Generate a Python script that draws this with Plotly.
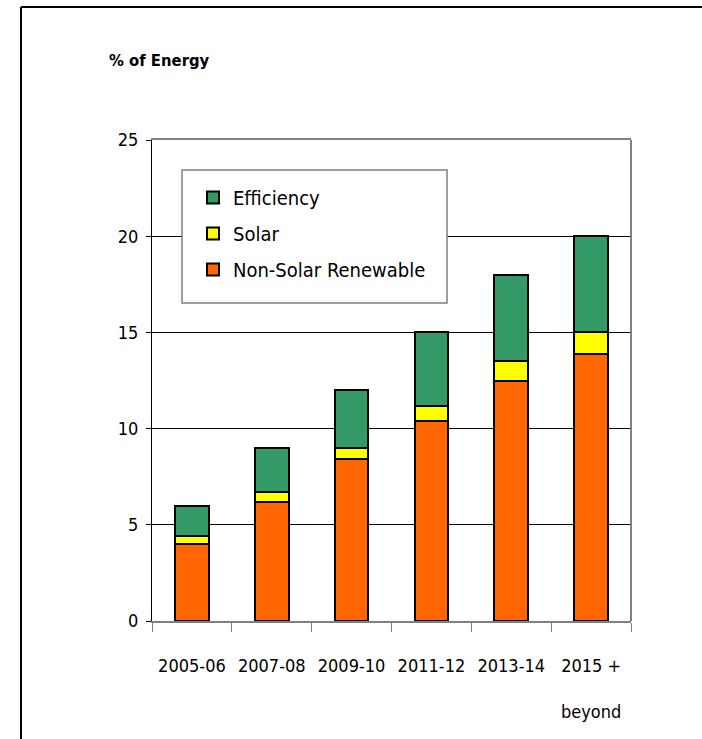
import plotly.graph_objects as go

categories = ["2005-06", "2007-08", "2009-10", "2011-12", "2013-14", "2015 +<br> <br>beyond"]
non_solar = [4.0, 6.2, 8.4, 10.4, 12.5, 13.9]
solar = [0.4, 0.5, 0.6, 0.8, 1.0, 1.1]
efficiency = [1.6, 2.3, 3.0, 3.8, 4.5, 5.0]
y_ticks = [0, 5, 10, 15, 20, 25]

FONT = "DejaVu Sans Condensed, Liberation Sans, Arial, sans-serif"

fig = go.Figure()
fig.add_bar(x=categories, y=non_solar, name="Non-Solar Renewable", legendgroup="c", legendrank=3,
            marker=dict(color="#FF6600", line=dict(color="black", width=2)))
fig.add_bar(x=categories, y=solar, name="Solar", legendgroup="b", legendrank=2,
            marker=dict(color="#FFFF00", line=dict(color="black", width=2)))
fig.add_bar(x=categories, y=efficiency, name="Efficiency", legendgroup="a", legendrank=1,
            marker=dict(color="#339966", line=dict(color="black", width=2)))

W, H = 702, 739
L, R, T, B = 152, 631, 140, 621
pw, ph = R - L, B - T

def px(x):
    return (x - L) / pw

def py(y):
    return (B - y) / ph

fig.update_layout(
    width=W, height=H,
    margin=dict(l=L, r=W - R, t=T, b=H - B, autoexpand=False),
    barmode="stack", bargap=0.58,
    paper_bgcolor="white", plot_bgcolor="white",
    font=dict(family=FONT, size=18, color="black"),
    showlegend=True,
    legend=dict(x=px(193), y=py(178), xanchor="left", yanchor="top",
                traceorder="grouped", bgcolor="rgba(0,0,0,0)", borderwidth=0,
                font=dict(family=FONT, size=20, color="black"),
                tracegroupgap=7),
    xaxis=dict(type="category", showline=True, linecolor="#808080", linewidth=2, mirror=True,
               ticks="outside", tickson="boundaries", ticklen=9, tickcolor="#808080",
               tickwidth=1, showgrid=False, ticklabelstandoff=27, tickangle=0,
               tickfont=dict(family=FONT, size=18, color="black")),
    yaxis=dict(range=[0, 25], tickvals=y_ticks, showline=True, linecolor="black",
               linewidth=1, ticks="outside", ticklen=5, tickcolor="black",
               showgrid=True, gridcolor="black", gridwidth=1, zeroline=False,
               ticklabelstandoff=4,
               tickfont=dict(family=FONT, size=18, color="black")),
    shapes=[
        # legend box (drawn over gridlines, under the legend entries)
        dict(type="rect", xref="paper", yref="paper", x0=px(182), x1=px(447),
             y0=py(303), y1=py(170), line=dict(color="#808080", width=1.5),
             fillcolor="white", layer="above"),
        # right plot border
        dict(type="line", xref="paper", yref="paper", x0=1, x1=1, y0=0, y1=1,
             line=dict(color="#808080", width=2)),
        # outer frame (top and left)
        dict(type="line", xref="paper", yref="paper", x0=px(21), x1=px(702),
             y0=py(7), y1=py(7), line=dict(color="black", width=2)),
        dict(type="line", xref="paper", yref="paper", x0=px(21), x1=px(21),
             y0=py(7), y1=py(739), line=dict(color="black", width=2)),
    ],
    annotations=[
        dict(text="<b>% of Energy</b>", xref="paper", yref="paper",
             x=px(107), y=py(60), xanchor="left", yanchor="middle",
             showarrow=False, font=dict(family=FONT, size=16.5, color="black")),
    ],
)

fig.write_html("out.html", post_script="document.body.style.margin='0px';",
               config={"displayModeBar": False})
